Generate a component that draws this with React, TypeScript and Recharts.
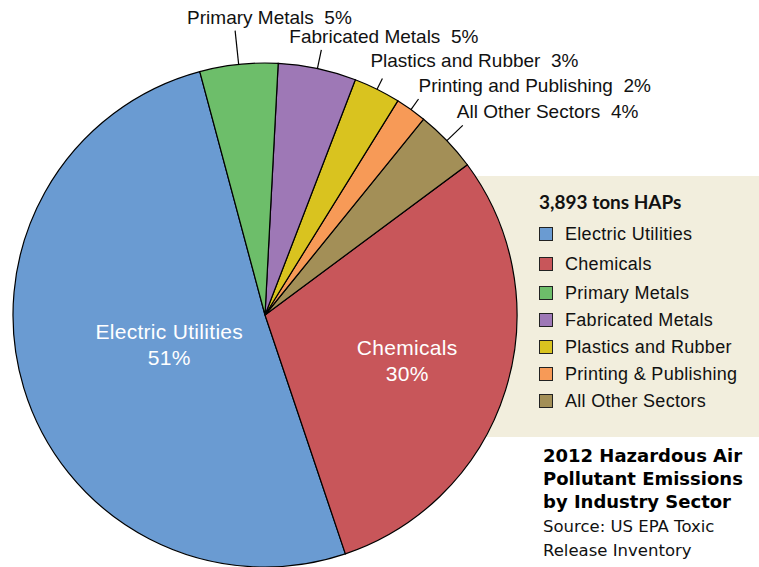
import React from "react";
import { PieChart, Pie, Cell, Legend } from "recharts";

// Data
const SECTORS = [
  "Electric Utilities",
  "Chemicals",
  "Primary Metals",
  "Fabricated Metals",
  "Plastics and Rubber",
  "Printing & Publishing",
  "All Other Sectors",
];
const PIE_LABELS = [
  "Electric Utilities",
  "Chemicals",
  "Primary Metals",
  "Fabricated Metals",
  "Plastics and Rubber",
  "Printing and Publishing",
  "All Other Sectors",
];
const SHARES = [51, 30, 5, 5, 3, 2, 4];
const TOTAL_LABEL = "3,893 tons HAPs";
const TITLE_LINES = ["2012 Hazardous Air", "Pollutant Emissions", "by Industry Sector"];
const SOURCE_LINES = ["Source: US EPA Toxic", "Release Inventory"];

// Drawing order (counter-clockwise from the top)
const DRAW_ORDER = [0, 1, 6, 5, 4, 3, 2];

// Styles
const COLORS = ["#6A9BD2", "#C8565A", "#6DBE6A", "#9E78B6", "#D9C31F", "#F79A57", "#A38F57"];
const BEIGE = "#F2EEDD";
const FONT = "'Liberation Sans', Arial, sans-serif";

type LabelStyle = { inside?: boolean; r?: number; len?: number; dx?: number; dy?: number };
const LABEL_STYLE: Record<number, LabelStyle> = {
  0: { inside: true, r: 100 },
  1: { inside: true, r: 149 },
  2: { len: 34, dx: -48, dy: -6.5 },
  3: { len: 19, dx: -32, dy: -7 },
  4: { len: 12, dx: -12, dy: -11.5 },
  5: { len: 13, dx: 0, dy: -7 },
  6: { len: 22, dx: -6, dy: -7 },
};

const pieData = DRAW_ORDER.map((i) => ({ name: SECTORS[i], value: SHARES[i], idx: i }));

const RAD = Math.PI / 180;

const renderLabel = (props: any) => {
  const { cx, cy, midAngle, outerRadius } = props;
  const idx: number = props.payload?.idx ?? props.idx;
  const st = LABEL_STYLE[idx];
  const cos = Math.cos(-midAngle * RAD);
  const sin = Math.sin(-midAngle * RAD);
  if (st.inside) {
    const x = cx + (st.r as number) * cos;
    const y = cy + (st.r as number) * sin;
    return (
      <g key={`lbl-${idx}`}>
        <text x={x} y={y - 5} textAnchor="middle" fill="#fff" fontSize={21} fontFamily={FONT} letterSpacing={0.3}>
          {PIE_LABELS[idx]}
        </text>
        <text x={x} y={y + 21} textAnchor="middle" fill="#fff" fontSize={21} fontFamily={FONT} letterSpacing={0.3}>
          {`${SHARES[idx]}%`}
        </text>
      </g>
    );
  }
  const x1 = cx + outerRadius * cos;
  const y1 = cy + outerRadius * sin;
  const x2 = cx + (outerRadius + (st.len as number)) * cos;
  const y2 = cy + (outerRadius + (st.len as number)) * sin;
  return (
    <g key={`lbl-${idx}`}>
      <line x1={x1} y1={y1} x2={x2} y2={y2} stroke="#000" strokeWidth={1.2} />
      <text
        x={x2 + (st.dx as number)}
        y={y2 + (st.dy as number)}
        textAnchor="start"
        fill="#111"
        fontSize={19}
        fontFamily={FONT}
        style={{ whiteSpace: "pre" }}
      >
        {`${PIE_LABELS[idx]}  ${SHARES[idx]}%`}
      </text>
    </g>
  );
};

const LegendContent = () => {
  const rowY = (i: number) => (i === 0 ? 60 : i === 1 ? 90 : 119 + (i - 2) * 27);
  return (
    <svg width={229} height={387} style={{ overflow: "visible" }}>
      <text x={9} y={29} fontFamily="Lato, 'Open Sans', sans-serif" fontWeight={700} fontSize={19} fill="#111">
        {TOTAL_LABEL}
      </text>
      {SECTORS.map((s, i) => (
        <g key={s}>
          <rect x={9.5} y={rowY(i) - 12.5} width={13} height={13} fill={COLORS[i]} stroke="#222" strokeWidth={1} />
          <text x={35} y={rowY(i)} fontFamily={FONT} fontSize={18} letterSpacing={0.3} fill="#111">
            {s}
          </text>
        </g>
      ))}
      {TITLE_LINES.map((t, i) => (
        <text key={t} x={13} y={282 + i * 23} fontFamily="'DejaVu Sans', Verdana, sans-serif" fontWeight={700} fontSize={18} fill="#000">
          {t}
        </text>
      ))}
      {SOURCE_LINES.map((t, i) => (
        <text key={t} x={13} y={352 + i * 24} fontFamily="'DejaVu Sans', Verdana, sans-serif" fontSize={16.5} fill="#111">
          {t}
        </text>
      ))}
    </svg>
  );
};

export default function App() {
  return (
    <div style={{ position: "absolute", left: 0, top: 0, width: 759, height: 567, background: "#fff", overflow: "hidden" }}>
      <div style={{ position: "absolute", left: 470, top: 176, width: 289, height: 261, background: BEIGE }} />
      <div style={{ position: "absolute", left: 0, top: 0 }}>
        <PieChart width={759} height={567} margin={{ top: 0, right: 0, bottom: 0, left: 0 }}>
          <Pie
            data={pieData}
            dataKey="value"
            nameKey="name"
            cx={265}
            cy={315}
            outerRadius={252}
            startAngle={105}
            endAngle={465}
            stroke="#000"
            strokeWidth={1.2}
            label={renderLabel}
            labelLine={false}
            isAnimationActive={false}
          >
            {pieData.map((d) => (
              <Cell key={d.name} fill={COLORS[d.idx]} />
            ))}
          </Pie>
          <Legend
            content={() => <LegendContent />}
            wrapperStyle={{ position: "absolute", left: 530, top: 180, width: 229, height: 387 }}
          />
        </PieChart>
      </div>
    </div>
  );
}
